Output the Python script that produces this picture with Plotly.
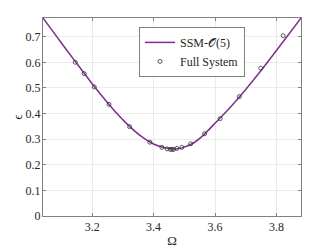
import plotly.graph_objects as go

# SSM-O(5) backbone curve
ssm_omega = [3.04, 3.08, 3.12, 3.16, 3.20, 3.24, 3.28, 3.32, 3.36, 3.40, 3.43, 3.46,
             3.48, 3.50, 3.53, 3.56, 3.60, 3.65, 3.70, 3.75, 3.80, 3.85, 3.88]
ssm_eps = [0.773, 0.708, 0.643, 0.580, 0.516, 0.457, 0.401, 0.352, 0.311, 0.281, 0.268, 0.262,
           0.263, 0.269, 0.285, 0.313, 0.362, 0.425, 0.494, 0.568, 0.646, 0.725, 0.773]

# Full system samples
full_omega = [3.145, 3.174, 3.207, 3.255, 3.322, 3.388, 3.427, 3.444, 3.454, 3.460, 3.465,
              3.476, 3.492, 3.521, 3.566, 3.617, 3.679, 3.749, 3.822]
full_eps = [0.600, 0.556, 0.504, 0.436, 0.349, 0.288, 0.268, 0.262, 0.260, 0.260, 0.260,
            0.264, 0.268, 0.282, 0.321, 0.380, 0.466, 0.577, 0.704]

x_ticks = [3.2, 3.4, 3.6, 3.8]
y_ticks = [0, 0.1, 0.2, 0.3, 0.4, 0.5, 0.6, 0.7]

font_family = "Liberation Serif"

fig = go.Figure()
fig.add_trace(go.Scatter(
    x=ssm_omega, y=ssm_eps, mode="lines", name="SSM-\U0001D4AA(5)",
    line=dict(color="#7E2F8E", width=1.5, shape="spline", smoothing=0.6),
))
fig.add_trace(go.Scatter(
    x=full_omega, y=full_eps, mode="markers", name="Full System",
    marker=dict(symbol="circle-open", size=4, color="#333333", line=dict(width=0.8)),
))

axis_common = dict(
    showgrid=True, gridcolor="#ebebeb", gridwidth=1,
    showline=True, linecolor="#808080", linewidth=1, mirror="ticks",
    ticks="inside", ticklen=3, tickcolor="#808080",
    zeroline=False, automargin=False,
    tickfont=dict(family=font_family, size=12, color="#262626"),
)

fig.update_layout(
    width=332, height=249,
    margin=dict(l=43, r=31, t=18, b=33),
    paper_bgcolor="white", plot_bgcolor="white",
    showlegend=True,
    font=dict(family=font_family, color="#262626"),
    legend=dict(
        x=0.783, y=0.955, xanchor="right", yanchor="top",
        bgcolor="white", bordercolor="#808080", borderwidth=1,
        font=dict(family=font_family, size=12, color="#262626"),
        tracegroupgap=0, itemwidth=30,
    ),
    xaxis=dict(range=[3.04, 3.88], tickvals=x_ticks,
               ticktext=[f"{v:.1f}" for v in x_ticks],
               title=dict(text="Ω", standoff=2,
                          font=dict(family=font_family, size=13, color="#262626")),
               **axis_common),
    yaxis=dict(range=[0, 0.773], tickvals=y_ticks,
               ticktext=["0"] + [f"{v:.1f}" for v in y_ticks[1:]],
               ticklabelstandoff=-1,
               title=dict(text="ϵ", standoff=0,
                          font=dict(family=font_family, size=13, color="#262626")),
               **axis_common),
)

fig.write_html("out.html",
               config={"displayModeBar": False},
               post_script="document.body.style.margin='0';document.body.style.padding='0';")
